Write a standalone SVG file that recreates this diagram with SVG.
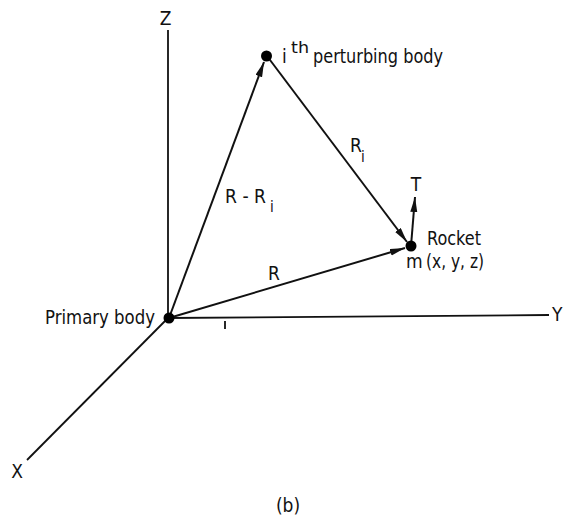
<svg xmlns="http://www.w3.org/2000/svg" width="563" height="518" viewBox="0 0 563 518">
<style>
text{font-family:"Liberation Sans Narrow","DejaVu Sans Condensed","Liberation Sans",sans-serif;font-size:19px;fill:#111}
.ax{stroke:#111;stroke-width:1.8;fill:none}
.vec{stroke:#111;stroke-width:2;fill:none;marker-end:url(#ah)}
.sub{font-size:15px}
.dot{fill:#000}
</style>
<defs>
<marker id="ah" markerUnits="userSpaceOnUse" markerWidth="16" markerHeight="8" refX="15" refY="3.5" orient="auto">
<path d="M0,0 L15,3.5 L0,7 z" fill="#111"/>
</marker>
</defs>
<g id="axes">
<line class="ax" x1="168" y1="318" x2="168" y2="30"/>
<line class="ax" x1="168" y1="318" x2="549" y2="315"/>
<line class="ax" x1="168" y1="318" x2="27" y2="460"/>
<line class="ax" x1="225" y1="321" x2="225" y2="329" stroke-width="1"/>
<text x="165.5" y="25" text-anchor="middle">Z</text>
<text x="552" y="321">Y</text>
<text x="17" y="478" text-anchor="middle">X</text>
</g>
<g id="connectors">
<line class="vec" x1="169" y1="318" x2="264" y2="62"/>
<line class="vec" x1="267" y1="56" x2="407" y2="242"/>
<line class="vec" x1="169" y1="318" x2="405" y2="248"/>
<line class="vec" x1="411" y1="246" x2="415" y2="197"/>
<text x="225" y="203" textLength="41" lengthAdjust="spacingAndGlyphs">R - R</text>
<text class="sub" x="270" y="212">i</text>
<text x="350" y="152">R</text>
<text class="sub" x="361" y="162">i</text>
<text x="268" y="280">R</text>
<text x="416" y="191" text-anchor="middle">T</text>
</g>
<g id="primary">
<circle class="dot" cx="169" cy="318" r="5.5"/>
<text x="45" y="324" textLength="110" lengthAdjust="spacingAndGlyphs">Primary body</text>
</g>
<g id="perturbing">
<circle class="dot" cx="266.5" cy="56" r="5.5"/>
<text x="282" y="63">i</text>
<text class="sub" x="291" y="53" textLength="18" lengthAdjust="spacingAndGlyphs">th</text>
<text x="313" y="63" textLength="130" lengthAdjust="spacingAndGlyphs">perturbing body</text>
</g>
<g id="rocket">
<circle class="dot" cx="411" cy="246" r="5.5"/>
<text x="427" y="245" textLength="54" lengthAdjust="spacingAndGlyphs">Rocket</text>
<text x="406" y="268">m</text>
<text x="426" y="268" textLength="58" lengthAdjust="spacingAndGlyphs">(x, y, z)</text>
</g>
<text x="288" y="512" text-anchor="middle">(b)</text>
</svg>
